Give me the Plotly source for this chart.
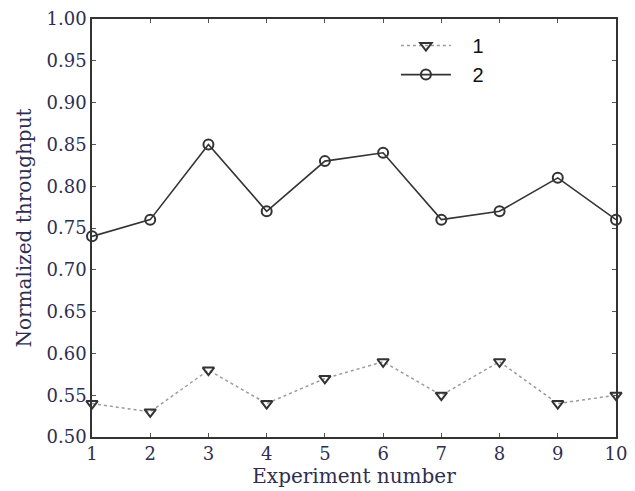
import plotly.graph_objects as go

experiments = [1, 2, 3, 4, 5, 6, 7, 8, 9, 10]
series1 = [0.54, 0.53, 0.58, 0.54, 0.57, 0.59, 0.55, 0.59, 0.54, 0.55]
series2 = [0.74, 0.76, 0.85, 0.77, 0.83, 0.84, 0.76, 0.77, 0.81, 0.76]
y_ticks = [0.50, 0.55, 0.60, 0.65, 0.70, 0.75, 0.80, 0.85, 0.90, 0.95, 1.00]

text_color = "#2e2e50"
serif = "DejaVu Serif, Liberation Serif, serif"

fig = go.Figure()
fig.add_trace(go.Scatter(
    x=experiments, y=series1, name="\u00a0\u00a0\u00a01", mode="lines+markers",
    line=dict(color="#9a9a9a", width=1.5, dash="dot"),
    marker=dict(symbol="triangle-down-open", size=10, color="#333333",
                line=dict(width=2, color="#333333")),
    cliponaxis=False,
))
fig.add_trace(go.Scatter(
    x=experiments, y=series2, name="\u00a0\u00a0\u00a02", mode="lines+markers",
    line=dict(color="#333333", width=1.6),
    marker=dict(symbol="circle-open", size=10, color="#333333",
                line=dict(width=2, color="#333333")),
    cliponaxis=False,
))

axis_common = dict(
    showline=True, linecolor="#333333", linewidth=1.5, mirror="ticks",
    ticks="inside", ticklen=4, tickwidth=1.2, tickcolor="#555555",
    showgrid=False, zeroline=False, automargin=False,
    ticklabeloverflow="allow",
    tickfont=dict(family=serif, size=18, color=text_color),
)

# page body has an 8px default margin, so the figure is sized to fit the window
fig.update_layout(
    width=627, height=483,
    margin=dict(l=84, r=19, t=11, b=54),
    paper_bgcolor="white", plot_bgcolor="white",
    xaxis=dict(range=[1, 10], tickvals=experiments,
               title=dict(text="Experiment number", standoff=0,
                          font=dict(family=serif, size=20, color=text_color)),
               **axis_common),
    yaxis=dict(range=[0.5, 1.0], tickvals=y_ticks,
               ticktext=[f"{v:.2f}" for v in y_ticks],
               title=dict(text="Normalized throughput", standoff=10,
                          font=dict(family=serif, size=20, color=text_color)),
               **axis_common),
    legend=dict(x=0.58, y=0.983, xanchor="left", yanchor="top",
                bgcolor="rgba(0,0,0,0)", itemwidth=50,
                font=dict(family="Liberation Sans, Arial, sans-serif", size=20, color="#111111"),
                tracegroupgap=0),
    showlegend=True,
)

fig.write_html("out.html")
